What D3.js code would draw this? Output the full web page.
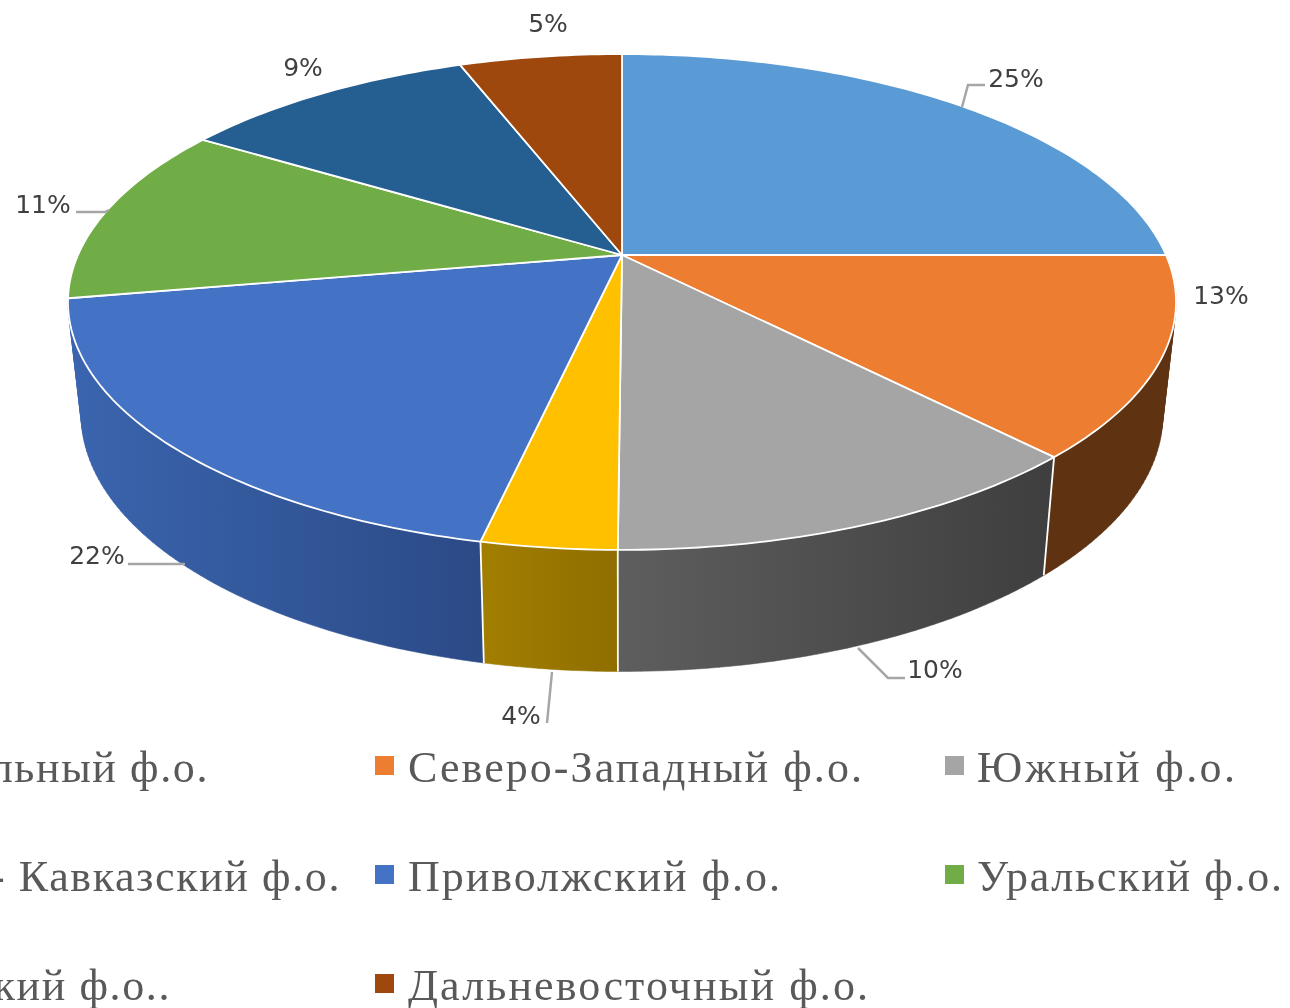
<!DOCTYPE html>
<html>
<head>
<meta charset="utf-8">
<script src="https://cdn.jsdelivr.net/npm/d3@7"></script>
<style>
  html, body { margin: 0; padding: 0; background: #fff; overflow: hidden; }
  svg { display: block; filter: blur(0.5px); }
</style>
</head>
<body>
<svg id="chart"></svg>
<script>
// Chart data
var districts = ['Центральный ф.о.', 'Северо-Западный ф.о.', 'Южный ф.о.', 'Северо- Кавказский ф.о.',
                 'Приволжский ф.о.', 'Уральский ф.о.', 'Сибирский ф.о..', 'Дальневосточный ф.о.'];
// Printed labels do not add up to what is drawn, so both are kept
var printed = ['25%', '13%', '10%', '4%', '22%', '11%', '9%', '5%'];
var shares  = [25, 13, 12.1, 3.3, 18.8, 11.7, 10.4, 5.7];
var colors  = ['#5b9bd5', '#ed7d31', '#a5a5a5', '#ffc000', '#4472c4', '#70ad47', '#255e91', '#9e480e'];
var sideColors = [null, ['#5f3311', '#5f3311'], ['#5e5e5e', '#3f3f3f'], ['#a27e00', '#8f6e00'],
                  ['#3a64ad', '#2b4a86'], null, null, null];

var W = 1290, H = 1008;
var svg = d3.select('#chart').attr('width', W).attr('height', H);
var defs = svg.append('defs');

// Perspective of the disc: far edge is squeezed, near edge is stretched
var tilt = -0.1895;
var topX = d3.scaleLinear().domain([-1, 1]).range([622 - 544, 622 + 544]);
var topY = d3.scaleLinear().domain([-1, 1]).range([255 - 239, 255 + 239]);
var botX = d3.scaleLinear().domain([-1, 1]).range([622 - 531, 622 + 531]);
var botY = d3.scaleLinear().domain([-1, 1]).range([366 - 247.6, 366 + 247.6]);

function project(angle, sx, sy){
    var u = Math.sin(angle);
    var v = -Math.cos(angle);
    var w = 1 + tilt * v;
    return [sx(u / w), sy(v / w)];
}
function rim(angle){ return project(angle, topX, topY); }
function base(angle){ return project(angle, botX, botY); }

var arcs = d3.pie().sort(null)(shares);
var line = d3.line();

function samples(a0, a1){
    var n = Math.max(2, Math.ceil((a1 - a0) / (Math.PI / 180)));
    return d3.range(n + 1).map(function(i){ return a0 + (a1 - a0) * i / n; });
}

// Side walls, drawn as a strip of quads so the silhouette stays filled.
// All quads wind the same way, otherwise overlaps cancel out and leave holes
arcs.forEach(function(d, i){
    if(!sideColors[i])
        return;
    var steps = samples(d.startAngle, d.endAngle);
    var xs = steps.map(function(a){ return base(a)[0]; });
    var grad = defs.append('linearGradient')
        .attr('id', 'side' + i)
        .attr('gradientUnits', 'userSpaceOnUse')
        .attr('x1', d3.min(xs)).attr('x2', d3.max(xs))
        .attr('y1', 0).attr('y2', 0);
    grad.append('stop').attr('offset', 0).attr('stop-color', sideColors[i][0]);
    grad.append('stop').attr('offset', 1).attr('stop-color', sideColors[i][1]);

    var dPath = '';
    for(var k = 0; k < steps.length - 1; k++){
        var quad = [rim(steps[k]), rim(steps[k + 1]), base(steps[k + 1]), base(steps[k])];
        if(d3.polygonArea(quad) < 0)
            quad.reverse();
        dPath += line(quad) + 'Z';
    }
    svg.append('path').attr('d', dPath).attr('fill', 'url(#side' + i + ')')
        .attr('stroke', 'url(#side' + i + ')').attr('stroke-width', 0.5);
});

// Seams between the visible walls
[1, 2, 3].forEach(function(i){
    var a = arcs[i].endAngle;
    svg.append('path').attr('d', line([rim(a), base(a)]))
        .attr('stroke', '#fff').attr('stroke-width', 1.8).attr('fill', 'none');
});

// Top of the disc
var center = [topX(0), topY(0)];
svg.selectAll('.slice').data(arcs).enter().append('path')
    .attr('class', 'slice')
    .attr('d', function(d){
        return line([center].concat(samples(d.startAngle, d.endAngle).map(rim))) + 'Z';
    })
    .attr('fill', function(d, i){ return colors[i]; })
    .attr('stroke', '#fff')
    .attr('stroke-width', 1.8)
    .attr('stroke-linejoin', 'round');

// Leader lines
var leaders = [
    [[962, 107], [968, 85], [985, 85]],
    [[76, 212], [105, 212], [109, 210]],
    [[128, 564], [185, 564]],
    [[858, 648], [888, 678], [905, 678]],
    [[552, 672], [547, 723]]
];
svg.selectAll('.leader').data(leaders).enter().append('path')
    .attr('class', 'leader')
    .attr('d', function(d){ return line(d); })
    .attr('fill', 'none')
    .attr('stroke', '#a6a6a6')
    .attr('stroke-width', 2.5);

// Percent labels
var labelPos = [[1016, 87], [1221, 304], [935, 678], [521, 724], [97, 564], [43, 213], [303, 76], [548, 32]];
svg.selectAll('.pct').data(printed).enter().append('text')
    .attr('class', 'pct')
    .attr('x', function(d, i){ return labelPos[i][0]; })
    .attr('y', function(d, i){ return labelPos[i][1]; })
    .attr('text-anchor', 'middle')
    .attr('font-family', '"DejaVu Sans"')
    .attr('font-size', 25)
    .attr('fill', '#404040')
    .text(function(d){ return d; });

// Legend, three columns; the left column runs off the page
var legendRows = [782, 891, 1000];
var legendCols = [
    {x: 208, anchor: 'end', items: [0, 3, 6], ends: [209, 341, 171]},
    {x: 408, box: 375, anchor: 'start', items: [1, 4, 7], widths: [454, 372, 460]},
    {x: 977, box: 945, anchor: 'start', items: [2, 5], widths: [258, 305]}
];
legendCols.forEach(function(col){
    col.items.forEach(function(item, r){
        var t = svg.append('text')
            .attr('y', legendRows[r])
            .attr('font-family', '"Liberation Serif"')
            .attr('font-size', 44)
            .attr('fill', '#595959')
            .text(districts[item]);
        if(col.anchor == 'end'){
            t.attr('x', col.ends[r]).attr('text-anchor', 'end').attr('letter-spacing', 1.6);
        } else {
            t.attr('x', col.x).attr('textLength', col.widths[r]).attr('lengthAdjust', 'spacing');
            svg.append('rect')
                .attr('x', col.box).attr('y', legendRows[r] - 26)
                .attr('width', 19).attr('height', 19)
                .attr('fill', colors[item]);
        }
    });
});
</script>
</body>
</html>
